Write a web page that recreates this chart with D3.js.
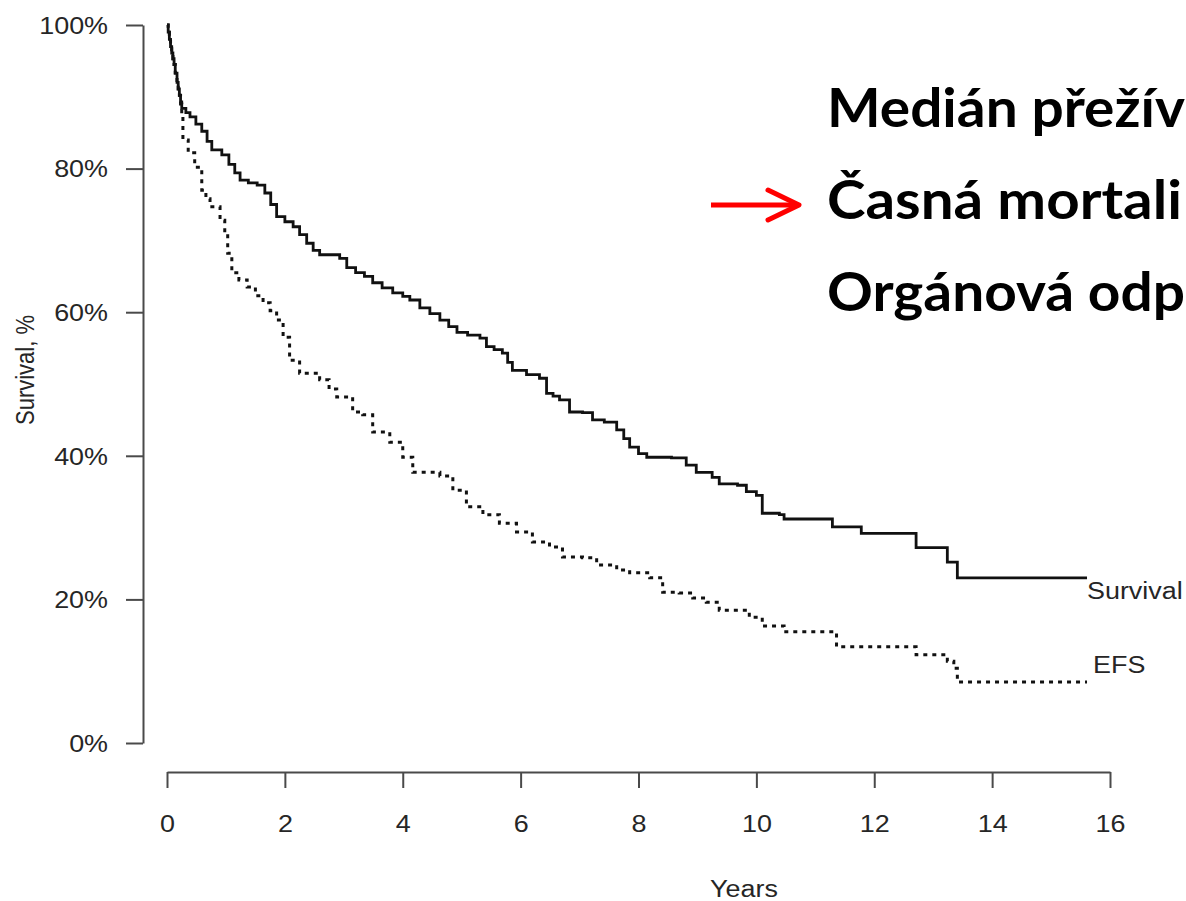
<!DOCTYPE html>
<html>
<head>
<meta charset="utf-8">
<script src="https://cdn.jsdelivr.net/npm/d3@7/dist/d3.min.js"></script>
<style>
  html, body { margin: 0; padding: 0; background: #fff; overflow: hidden; }
  svg { display: block; }
</style>
</head>
<body>
<svg id="chart" width="1186" height="901"></svg>
<script>
// Kaplan–Meier estimates: years since diagnosis and survival in percent
const survivalYears = [0, 0.02, 0.04, 0.06, 0.08, 0.10, 0.12, 0.14, 0.17, 0.19, 0.21, 0.23, 0.25,
  0.32, 0.39, 0.49, 0.59, 0.68, 0.76, 0.93,
  1.05, 1.15, 1.24, 1.38, 1.53, 1.66, 1.76, 1.86, 2.0, 2.14, 2.25, 2.37, 2.48, 2.59, 2.93, 3.05,
  3.2, 3.35, 3.49, 3.65, 3.83, 4.0, 4.12, 4.29, 4.46, 4.63, 4.78, 4.92, 5.1, 5.31, 5.42, 5.55,
  5.69, 5.78, 5.86, 6.1, 6.32, 6.44, 6.55, 6.66, 6.83, 7.05, 7.22, 7.42, 7.63, 7.75, 7.85, 8.0,
  8.14, 8.56, 8.81, 8.98, 9.25, 9.37, 9.68, 9.83, 10.0, 10.1, 10.39, 10.47, 11.29, 11.78, 12.71,
  13.24, 13.41, 15.61];
const survivalPct = [100, 99, 98, 97, 96.1, 95.3, 94.5, 93.3, 92, 91.1, 90.2, 89.3, 88.4,
  87.8, 87.2, 86.2, 85.2, 83.8, 82.6, 81.9,
  80.6, 79.4, 78.4, 78, 77.7, 76.6, 75, 73.3, 72.6, 71.9, 70.8, 69.6, 68.6, 68.0, 67.5, 66.2,
  65.5, 65.0, 64.1, 63.4, 62.7, 62.2, 61.7, 60.6, 59.8, 58.9, 58.0, 57.2, 56.8, 56.4, 55.2, 54.8,
  54.3, 53.0, 51.9, 51.3, 50.8, 48.7, 48.3, 47.8, 46.1, 46.0, 45.0, 44.7, 43.6, 42.4, 41.2, 40.3,
  39.8, 39.7, 38.7, 37.7, 37.0, 36.1, 35.9, 35.0, 34.5, 32.0, 31.8, 31.2, 30.1, 29.2, 27.2,
  25.2, 23.0, 23.0];

// Event-free survival
const efsYears = [0, 0.02, 0.04, 0.06, 0.08, 0.10, 0.12, 0.14, 0.17, 0.19, 0.21, 0.23, 0.25,
  0.27, 0.36, 0.47, 0.59, 0.66, 0.73, 0.9,
  0.98, 1.03, 1.1, 1.22, 1.36, 1.5, 1.63, 1.75, 1.86, 1.97, 2.08, 2.25, 2.59, 2.75, 2.88, 3.15,
  3.32, 3.49, 3.78, 4.0, 4.17, 4.63, 4.85, 5.08, 5.36, 5.64, 5.93, 6.2, 6.49, 6.71, 7.05, 7.29,
  7.63, 7.85, 8.19, 8.41, 8.69, 8.92, 9.15, 9.37, 9.88, 10.1, 10.47, 11.36, 12.71, 13.24, 13.35,
  13.41, 15.61];
const efsPct = [100, 99, 98, 97, 96.1, 95.3, 94.5, 93.3, 92, 91.1, 90.2, 89.0, 87.5,
  84.0, 82.2, 80.2, 77.0, 75.8, 74.7, 72.8,
  71.0, 68.2, 65.5, 64.5, 63.5, 62.3, 61.3, 60.2, 58.9, 56.5, 53.3, 51.5, 50.6, 49.3, 48.2, 46.1,
  45.7, 43.3, 41.9, 39.8, 37.7, 37.2, 35.2, 32.9, 31.8, 30.6, 29.4, 28.0, 27.3, 25.9, 25.8, 24.8,
  24.1, 23.7, 23.0, 21.0, 20.9, 20.2, 19.6, 18.5, 17.5, 16.3, 15.5, 13.4, 12.3, 11.4, 10.4,
  8.5, 8.5];

const xTicks = [0, 2, 4, 6, 8, 10, 12, 14, 16];
const yTicks = [0, 20, 40, 60, 80, 100];
const curveLabels = ["Survival", "EFS"];
const headlines = ["Medián přežív", "Časná mortali", "Orgánová odp"];
const headlineEnds = [1185, 1182, 1185];

const svg = d3.select("#chart");
const axisColor = "#4a4a4a";
const textColor = "#262626";
const stretch = 1.17;
const fs = 23;
const tickFont = "'Liberation Sans', Arial, sans-serif";

const x = d3.scaleLinear().domain([0, 16]).range([167, 1110]);
const y = d3.scaleLinear().domain([0, 100]).range([743, 25]);

// Y axis
const gy = svg.append("g")
  .attr("transform", "translate(143,0)")
  .call(d3.axisLeft(y).tickValues(yTicks).tickSize(17).tickSizeOuter(0).tickFormat(d => d + "%"));
// X axis
const gx = svg.append("g")
  .attr("transform", "translate(0,772)")
  .call(d3.axisBottom(x).tickValues(xTicks).tickSize(16).tickSizeOuter(0));

[gx, gy].forEach(g => {
  g.select(".domain").attr("stroke", axisColor).attr("stroke-width", 2);
  g.selectAll(".tick line").attr("stroke", axisColor).attr("stroke-width", 2);
  g.selectAll(".tick text")
    .attr("fill", textColor)
    .attr("font-family", tickFont)
    .attr("font-size", fs);
});
gy.selectAll(".tick text")
  .attr("x", null).attr("dy", "0.36em")
  .attr("text-anchor", "end")
  .attr("transform", `translate(-35,0) scale(${stretch},1)`);
gx.selectAll(".tick text")
  .attr("y", null).attr("dy", null)
  .attr("text-anchor", "middle")
  .attr("transform", `translate(0,60) scale(${stretch},1)`);

// Axis titles
svg.append("text")
  .attr("transform", `translate(744,897) scale(${stretch},1)`)
  .attr("text-anchor", "middle")
  .attr("font-family", tickFont).attr("font-size", fs).attr("fill", textColor)
  .text("Years");
svg.append("text")
  .attr("transform", `translate(34,370) scale(${stretch},1) rotate(-90)`)
  .attr("text-anchor", "middle")
  .attr("font-family", tickFont).attr("font-size", 22).attr("fill", textColor)
  .text("Survival, %");

// Curves
const line = d3.line()
  .x(d => x(d[0]))
  .y(d => y(d[1]))
  .curve(d3.curveStepAfter);

const efs = efsYears.map((t, i) => [t, efsPct[i]]);
const surv = survivalYears.map((t, i) => [t, survivalPct[i]]);

svg.append("path")
  .datum(efs)
  .attr("d", line)
  .attr("fill", "none")
  .attr("stroke", "#111")
  .attr("stroke-width", 3)
  .attr("stroke-dasharray", "4 5");

svg.append("path")
  .datum(surv)
  .attr("d", line)
  .attr("fill", "none")
  .attr("stroke", "#111")
  .attr("stroke-width", 2.8);

// End-of-curve labels
const lastS = surv[surv.length - 1];
const lastE = efs[efs.length - 1];
svg.append("text")
  .attr("transform", `translate(${x(lastS[0])},${y(lastS[1]) + 21}) scale(${stretch},1)`)
  .attr("font-family", tickFont).attr("font-size", fs).attr("fill", textColor)
  .text(curveLabels[0]);
svg.append("text")
  .attr("transform", `translate(${x(lastE[0]) + 6},${y(lastE[1]) - 9}) scale(${stretch},1)`)
  .attr("font-family", tickFont).attr("font-size", fs).attr("fill", textColor)
  .text(curveLabels[1]);

// Headline list
const headX = 827;
headlines.forEach((t, i) => {
  svg.append("text")
    .attr("x", headX)
    .attr("y", 127 + i * 92)
    .attr("font-family", "Lato, 'Open Sans', sans-serif")
    .attr("font-weight", 700)
    .attr("font-size", 54)
    .attr("fill", "#000")
    .attr("textLength", headlineEnds[i] - headX)
    .attr("lengthAdjust", "spacingAndGlyphs")
    .text(t);
});

// Red arrow pointing at the second item
const arrow = svg.append("g")
  .attr("stroke", "#ff0000")
  .attr("stroke-width", 5)
  .attr("fill", "none");
arrow.append("line").attr("x1", 711).attr("y1", 205).attr("x2", 797).attr("y2", 205);
arrow.append("polyline").attr("points", "768,190 799,205 768,220")
  .attr("stroke-linecap", "round").attr("stroke-linejoin", "round");
</script>
</body>
</html>
